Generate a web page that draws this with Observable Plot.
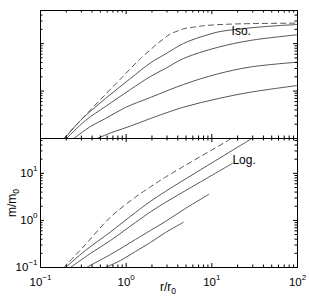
<!DOCTYPE html>
<html><head><meta charset="utf-8">
<script src="https://cdn.jsdelivr.net/npm/d3@7"></script>
<script src="https://cdn.jsdelivr.net/npm/@observablehq/plot@0.6"></script>
<style>
body{margin:0;background:#fff;}
#chart{width:309px;}
#chart svg{display:block;}
</style></head><body><div id="chart"></div>
<script>
// ---- data ----
const xMajor = [0.1, 1, 10, 100];
const xMinor = [0.2,0.3,0.4,0.5,0.6,0.7,0.8,0.9,2,3,4,5,6,7,8,9,20,30,40,50,60,70,80,90];
const yMajor = [0.1, 1, 10];
const yMinor = [0.2,0.3,0.4,0.5,0.6,0.7,0.8,0.9,2,3,4,5,6,7,8,9,20,30,40,50];

// Isothermal panel (top)
const isoDashR = [0.187, 0.293, 0.502, 0.859, 1.47, 1.92, 2.30, 2.75, 3.29, 3.94, 4.71, 6.16, 8.06, 11.6, 16.5, 23.6, 100];
const isoDashM = [0.1, 0.24, 0.665, 1.8, 4.87, 7.43, 9.95, 12.7, 16.2, 18.3, 20.6, 22.3, 23.9, 25.1, 25.8, 26.3, 27.1];
const iso1R = [0.191, 0.293, 0.574, 1.123, 1.92, 2.88, 4.67, 7.38, 11.6, 17.9, 37.0, 100];
const iso1M = [0.1, 0.24, 0.698, 1.845, 3.92, 6.07, 10.1, 13.8, 17.5, 19.7, 22.5, 25.4];
const iso2R = [0.201, 0.335, 0.574, 1.123, 1.92, 2.88, 4.67, 11.6, 28.3, 100];
const iso2M = [0.1, 0.24, 0.473, 1.081, 2.03, 3.00, 4.87, 8.31, 11.7, 15.4];
const iso3R = [0.245, 0.383, 0.574, 0.982, 1.92, 4.67, 11.6, 28.3, 100];
const iso3M = [0.1, 0.179, 0.264, 0.451, 0.733, 1.377, 2.29, 3.22, 4.07];
const iso4R = [0.459, 0.656, 0.899, 1.40, 1.92, 4.67, 11.6, 28.3, 100];
const iso4M = [0.1, 0.131, 0.159, 0.212, 0.264, 0.457, 0.688, 0.948, 1.31];

// Logatropic panel (bottom)
const logDashR = [0.187, 0.335, 0.656, 1.285, 1.92, 2.88, 15.6, 17.0];
const logDashM = [0.1, 0.308, 1.175, 3.13, 5.16, 8.34, 50.4, 55.6];
const log1R = [0.196, 0.335, 0.656, 1.285, 1.92, 2.88, 7.38, 29.6];
const log1M = [0.1, 0.230, 0.569, 1.479, 2.54, 4.14, 11.9, 55.6];
const log2R = [0.224, 0.383, 0.656, 1.285, 1.92, 2.88, 7.38, 17.4];
const log2M = [0.1, 0.199, 0.375, 0.906, 1.517, 2.415, 6.59, 16.3];
const log3R = [0.342, 0.656, 1.285, 1.92, 2.88, 4.93, 9.21];
const log3M = [0.1, 0.189, 0.394, 0.613, 0.952, 1.80, 3.57];
const log4R = [0.574, 0.859, 1.285, 1.92, 2.88, 4.63];
const log4M = [0.1, 0.141, 0.219, 0.340, 0.555, 0.906];

const panelLabels = ["Iso.", "Log."];
const labelR = [17.0, 17.4];
const labelM = [18.2, 18.9];

// ---- rendering ----
const FONT = "'Liberation Sans', Arial, Helvetica, sans-serif";
const GRAY = "#555";
const rows = (rs, ms) => rs.map((r, i) => ({r, m: ms[i]}));

function frameTicks(H, W) {
  const k = "#000";
  return [
    Plot.tickX(xMajor, {x: d => d, insetTop: H - 4, stroke: k}),
    Plot.tickX(xMajor, {x: d => d, insetBottom: H - 4, stroke: k}),
    Plot.tickX(xMinor, {x: d => d, insetTop: H - 2.5, stroke: k}),
    Plot.tickX(xMinor, {x: d => d, insetBottom: H - 2.5, stroke: k}),
    Plot.tickY(yMajor, {y: d => d, insetRight: W - 4, stroke: k}),
    Plot.tickY(yMajor, {y: d => d, insetLeft: W - 4, stroke: k}),
    Plot.tickY(yMinor, {y: d => d, insetRight: W - 2.5, stroke: k}),
    Plot.tickY(yMinor, {y: d => d, insetLeft: W - 2.5, stroke: k})
  ];
}
function curves(dash, solids) {
  return [
    Plot.line(dash, {x: "r", y: "m", stroke: GRAY, strokeWidth: 1, strokeDasharray: "5,4", curve: "catmull-rom", clip: true}),
    ...solids.map(s => Plot.line(s, {x: "r", y: "m", stroke: GRAY, strokeWidth: 1, curve: "catmull-rom", clip: true}))
  ];
}

const topPlot = Plot.plot({
  width: 309, height: 138, marginTop: 10, marginBottom: 0, marginLeft: 40, marginRight: 12,
  style: {fontFamily: FONT, fontSize: "12px", background: "#fff", color: "#000"},
  x: {type: "log", domain: [0.1, 100], axis: null},
  y: {type: "log", domain: [0.1, 50], axis: null},
  marks: [
    ...curves(rows(isoDashR, isoDashM), [rows(iso1R, iso1M), rows(iso2R, iso2M), rows(iso3R, iso3M), rows(iso4R, iso4M)]),
    Plot.text([0], {x: () => labelR[0], y: () => labelM[0], text: () => panelLabels[0], textAnchor: "start", lineAnchor: "middle", fontSize: 12, fill: "#000"}),
    ...frameTicks(128, 257),
    Plot.frame({stroke: "#000"})
  ]
});

const tf = d => String(Math.round(Math.log10(d)));
const bottomPlot = Plot.plot({
  width: 309, height: 163, marginTop: 0, marginBottom: 34, marginLeft: 40, marginRight: 12,
  style: {fontFamily: FONT, fontSize: "11.5px", background: "#fff", color: "#000"},
  x: {type: "log", domain: [0.1, 100]},
  y: {type: "log", domain: [0.1, 55]},
  marks: [
    ...curves(rows(logDashR, logDashM), [rows(log1R, log1M), rows(log2R, log2M), rows(log3R, log3M), rows(log4R, log4M)]),
    Plot.text([0], {x: () => labelR[1], y: () => labelM[1], text: () => panelLabels[1], textAnchor: "start", lineAnchor: "middle", fontSize: 12, fill: "#000"}),
    ...frameTicks(129, 257),
    Plot.frame({stroke: "#000"}),
    Plot.axisX(xMajor, {anchor: "bottom", tickSize: 0, tickPadding: 10, tickFormat: tf, label: null}),
    Plot.axisY(yMajor, {anchor: "left", tickSize: 0, tickPadding: 3, tickFormat: tf, label: null})
  ]
});

const chart = document.getElementById("chart");
chart.appendChild(topPlot);
chart.appendChild(bottomPlot);

// superscript exponents on tick labels
d3.select(bottomPlot).selectAll('g[aria-label="x-axis tick label"] text, g[aria-label="y-axis tick label"] text').each(function () {
  const e = this.textContent.replace("-", "\u2212");
  const t = d3.select(this);
  t.text(null);
  t.append("tspan").text("10");
  t.append("tspan").attr("dy", -6).attr("font-size", 8).text(e);
});

// axis titles with subscripts
const sb = d3.select(bottomPlot);
const yl = sb.append("text").attr("transform", "translate(16,65) rotate(-90)")
  .attr("text-anchor", "middle").attr("font-size", 12).attr("font-family", FONT).attr("fill", "#000");
yl.append("tspan").text("m/m");
yl.append("tspan").attr("dy", 3).attr("font-size", 8.5).text("0");
const xl = sb.append("text").attr("x", 168).attr("y", 152.5)
  .attr("text-anchor", "middle").attr("font-size", 12).attr("font-family", FONT).attr("fill", "#000");
xl.append("tspan").text("r/r");
xl.append("tspan").attr("dy", 3).attr("font-size", 8.5).text("0");
</script>
</body></html>
